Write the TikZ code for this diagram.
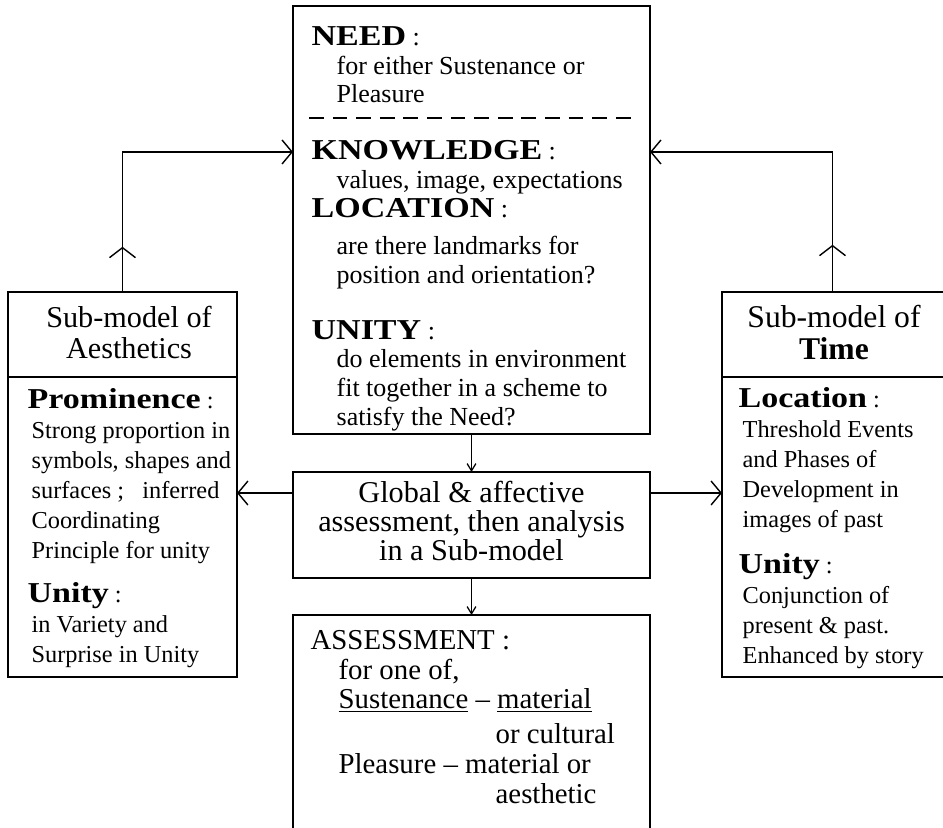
\documentclass[tikz,border=0pt]{standalone}
\usepackage{fontspec}
\setmainfont{Liberation Serif}
\newfontfamily\headfont[FakeStretch=1.18]{Liberation Serif}
\usetikzlibrary{arrows.meta}
\usetikzlibrary{decorations.markings}

\newcommand\hdg[1]{{\fontsize{20.5pt}{20.5pt}\selectfont\headfont\bfseries #1}}
\newcommand\topsz{\fontsize{18.5pt}{20.3pt}\selectfont}
\newcommand\sidesz{\fontsize{17.3pt}{21.3pt}\selectfont}
\newcommand\midsz{\fontsize{21.5pt}{20.6pt}\selectfont}
\newcommand\lowsz{\fontsize{20.5pt}{21pt}\selectfont}
\newcommand\ttlsz{\fontsize{21.5pt}{22pt}\selectfont}
\newcommand\ind{\hspace*{0.625cm}}

\begin{document}
\begin{tikzpicture}[
  x=0.025cm, y=-0.025cm,
  line width=0.9pt,
  frame/.style={draw, inner sep=0pt, outer sep=0pt},
  open/.style={inner sep=0pt, outer sep=0pt},
  txt/.style={inner sep=0pt, anchor=base west, align=left},
  ctxt/.style={inner sep=0pt, anchor=base, align=center},
  link/.style={-{Straight Barb[length=0.25cm,width=0.6cm,line width=1pt]}},
  small/.style={-{Straight Barb[length=0.18cm,width=0.22cm]}},
  midup/.style={postaction={decorate, decoration={markings,
    mark=at position #1 with {\arrow{Straight Barb[length=0.25cm,width=0.65cm,line width=1pt]}}}}}
]
\useasboundingbox (0,0) rectangle (943,828);

\node[frame, minimum width=8.925cm, minimum height=10.7cm] (topbox) at (471.5,220) {};
\node[frame, minimum width=8.925cm, minimum height=2.65cm] (midbox) at (471.5,525) {};
\node[open, minimum width=8.925cm, minimum height=5.325cm] (lowbox) at (471.5,721.5) {};
\node[frame, minimum width=5.725cm, minimum height=2.125cm] (aestitle) at (122.5,334.5) {};
\node[frame, minimum width=5.725cm, minimum height=7.5cm] (aesbody) at (122.5,527) {};
\node[open, minimum width=5.525cm, minimum height=2.125cm] (timetitle) at (832.5,334.5) {};
\node[open, minimum width=5.525cm, minimum height=7.5cm] (timebody) at (832.5,527) {};

\draw (lowbox.south west) |- (lowbox.north east) -- (lowbox.south east);
\draw (timetitle.north east) -| (timebody.south west) -- (timebody.south east);
\draw (timetitle.south west) -- (timetitle.south east);
\draw[dash pattern=on 0.37cm off 0.22cm] (309,118) -- (633,118);

\node[txt, font=\topsz] (need) at (311,103)
  {\hdg{NEED} :\\\ind for either Sustenance or\\\ind Pleasure};
\node[txt, font=\topsz] (know) at (311,188)
  {\hdg{KNOWLEDGE} :\\\ind values, image, expectations};
\node[txt, font=\topsz] (loc) at (311,283)
  {\hdg{LOCATION} :\\[5.7pt]\ind are there landmarks for\\\ind position and orientation?};
\node[txt, font=\topsz] (unity) at (311,425)
  {\hdg{UNITY} :\\\ind do elements in environment\\\ind fit together in a scheme to\\\ind satisfy the Need?};

\node[ctxt, font=\midsz] (global) at (471.5,560)
  {Global \& affective\\assessment, then analysis\\in a Sub-model};

\node[txt, font=\lowsz] (assess) at (310,803)
  {ASSESSMENT :\\\hspace*{0.7cm}for one of,\\\hspace*{0.7cm}\underline{Sustenance} -- \underline{material}\\[4pt]%
   \hspace*{4.625cm}or cultural\\\hspace*{0.7cm}Pleasure -- material or\\\hspace*{4.625cm}aesthetic};

\node[ctxt, font=\ttlsz] (aesname) at (129,358) {Sub-model of\\Aesthetics};
\node[txt, font=\sidesz] (prom) at (27,558)
  {\hdg{Prominence} :\\\hspace*{0.1cm}Strong proportion in\\\hspace*{0.1cm}symbols, shapes and\\\hspace*{0.1cm}surfaces ;\ \ \ inferred\\\hspace*{0.1cm}Coordinating\\\hspace*{0.1cm}Principle for unity};
\node[txt, font=\sidesz] (aesunity) at (27,662)
  {\hdg{Unity} :\\\hspace*{0.1cm}in Variety and\\\hspace*{0.1cm}Surprise in Unity};

\node[ctxt, font=\fontsize{22.5pt}{22.5pt}\selectfont] (timename) at (834,359) {Sub-model of\\{\bfseries Time}};
\node[txt, font=\sidesz] (timeloc) at (738,527)
  {\hdg{Location} :\\\hspace*{0.1cm}Threshold Events\\\hspace*{0.1cm}and Phases of\\\hspace*{0.1cm}Development in\\\hspace*{0.1cm}images of past};
\node[txt, font=\sidesz] (timeunity) at (738,663)
  {\hdg{Unity} :\\\hspace*{0.1cm}Conjunction of\\\hspace*{0.1cm}present \& past.\\\hspace*{0.1cm}Enhanced by story};

\coordinate (ml) at ([yshift=0.8cm]midbox.west);
\coordinate (mr) at ([yshift=0.8cm]midbox.east);

\draw[link, midup=1.13cm] (aestitle.north) |- ([yshift=1.7cm]topbox.west);
\draw[link, midup=1.18cm] (timetitle.north) |- ([yshift=1.7cm]topbox.east);
\draw[small] (topbox) -- (midbox);
\draw[small] (midbox) -- (lowbox);
\draw[link] (ml) -- (ml -| aesbody.east);
\draw[link] (mr) -- (mr -| timebody.west);

\end{tikzpicture}
\end{document}
